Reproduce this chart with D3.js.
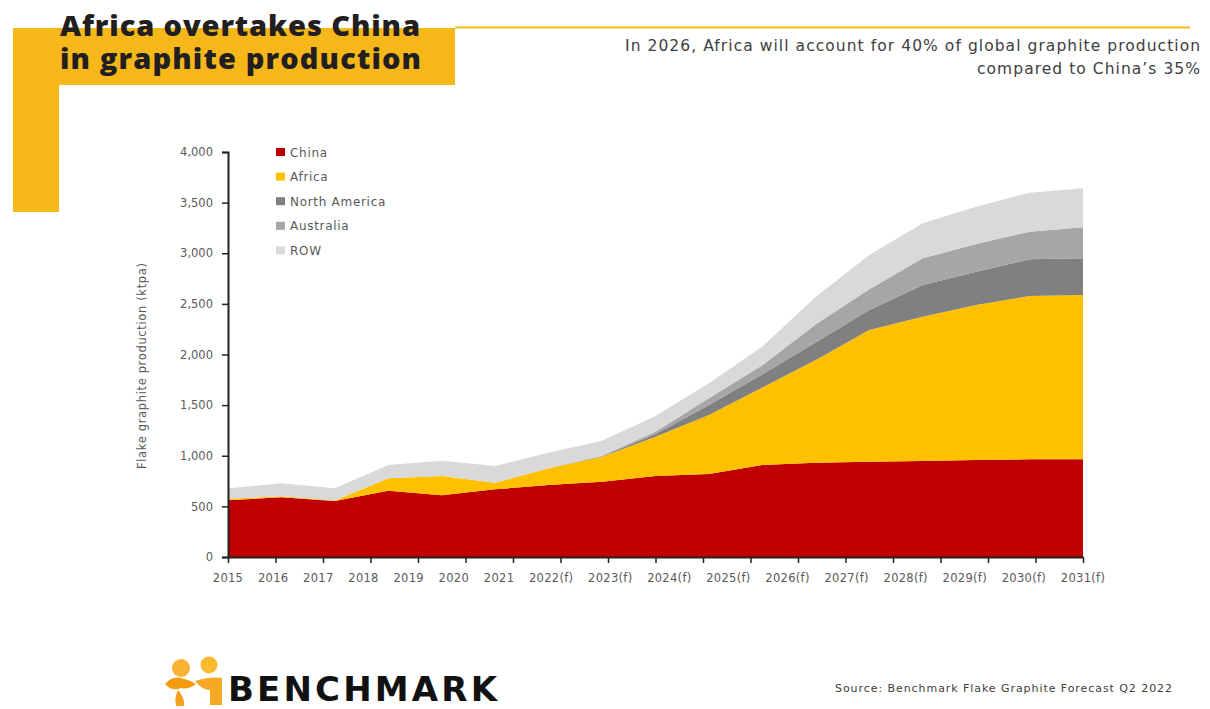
<!DOCTYPE html>
<html>
<head>
<meta charset="utf-8">
<script src="https://cdn.jsdelivr.net/npm/d3@7"></script>
<style>
  html, body { margin: 0; padding: 0; background: #ffffff; }
  svg { display: block; }
  text { font-family: "DejaVu Sans", "Open Sans", sans-serif; }
</style>
</head>
<body>
<svg id="chart" width="1210" height="709"></svg>
<script>
// ---------------- DATA ----------------
const years = ["2015","2016","2017","2018","2019","2020","2021","2022(f)","2023(f)","2024(f)","2025(f)","2026(f)","2027(f)","2028(f)","2029(f)","2030(f)","2031(f)"];
const seriesNames = ["China","Africa","North America","Australia","ROW"];
const china        = [560, 590, 553, 655, 609, 668, 711, 744, 800, 820, 909, 931, 941, 948, 958, 965, 965];
const africa       = [15, 10, 5, 122, 191, 66, 165, 245, 388, 582, 766, 1015, 1301, 1425, 1531, 1613, 1623];
const northAmerica = [0, 0, 0, 0, 0, 0, 0, 5, 27, 99, 130, 174, 198, 313, 329, 362, 362];
const australia    = [0, 0, 0, 0, 0, 0, 0, 5, 23, 66, 90, 180, 205, 264, 273, 273, 306];
const row          = [103, 128, 120, 132, 151, 165, 154, 150, 155, 149, 183, 270, 338, 346, 369, 385, 386];
const yTicks = [0, 500, 1000, 1500, 2000, 2500, 3000, 3500, 4000];
const xTickCount = 19;

const colors = {"China":"#C00000","Africa":"#FFC000","North America":"#808080","Australia":"#A6A6A6","ROW":"#D9D9D9"};

const table = years.map((y, i) => ({
  year: y,
  "China": china[i], "Africa": africa[i], "North America": northAmerica[i],
  "Australia": australia[i], "ROW": row[i]
}));

// ---------------- LAYOUT ----------------
const svg = d3.select("#chart");
const plot = {left: 228, right: 1083, top: 152, bottom: 557};
const yellow = "#F5B71A";

// Title block
svg.append("rect").attr("x", 13).attr("y", 28).attr("width", 442).attr("height", 57).attr("fill", yellow);
svg.append("rect").attr("x", 13).attr("y", 28).attr("width", 46).attr("height", 184).attr("fill", yellow);
svg.append("line").attr("x1", 455).attr("x2", 1190).attr("y1", 27.5).attr("y2", 27.5)
  .attr("stroke", yellow).attr("stroke-width", 2);

svg.append("text").attr("x", 60).attr("y", 36).attr("fill", "#231F20")
  .style("font-family", "'Open Sans', sans-serif")
  .attr("font-size", 29).attr("font-weight", 800)
  .attr("textLength", 360).attr("lengthAdjust", "spacing")
  .text("Africa overtakes China");
svg.append("text").attr("x", 60).attr("y", 69).attr("fill", "#231F20")
  .style("font-family", "'Open Sans', sans-serif")
  .attr("font-size", 29).attr("font-weight", 800)
  .attr("textLength", 361).attr("lengthAdjust", "spacing")
  .text("in graphite production");

svg.append("text").attr("x", 1200).attr("y", 51).attr("text-anchor", "end")
  .attr("fill", "#404040").attr("font-size", 15.5)
  .attr("textLength", 575).attr("lengthAdjust", "spacing")
  .text("In 2026, Africa will account for 40% of global graphite production");
svg.append("text").attr("x", 1200).attr("y", 74).attr("text-anchor", "end")
  .attr("fill", "#404040").attr("font-size", 15.5)
  .attr("textLength", 223).attr("lengthAdjust", "spacing")
  .text("compared to China\u2019s 35%");

// ---------------- SCALES ----------------
const x = d3.scalePoint().domain(years).range([plot.left, plot.right]);
const y = d3.scaleLinear().domain([0, 4000]).range([plot.bottom, plot.top]);

const stack = d3.stack().keys(seriesNames);
const layers = stack(table);

const area = d3.area()
  .x(d => x(d.data.year))
  .y0(d => y(d[0]))
  .y1(d => y(d[1]))
  .curve(d3.curveLinear);

svg.append("g").selectAll("path").data(layers).join("path")
  .attr("d", area)
  .attr("fill", d => colors[d.key]);

// ---------------- AXES ----------------
const yAxis = svg.append("g").attr("transform", `translate(${plot.left},0)`)
  .call(d3.axisLeft(y).tickValues(yTicks).tickFormat(d3.format(",")).tickSize(6).tickPadding(9));
yAxis.select(".domain").attr("stroke", "#222").attr("stroke-width", 2);
yAxis.selectAll(".tick line").attr("stroke", "#222").attr("stroke-width", 1.5);
yAxis.selectAll(".tick text").attr("fill", "#595959").attr("font-size", 11.5)
  .style("font-family", "'DejaVu Sans', sans-serif");

// x axis: evenly spaced tick marks
const xt = d3.scaleLinear().domain([0, xTickCount - 1]).range([plot.left, plot.right]);
const xAxis = svg.append("g").attr("transform", `translate(0,${plot.bottom})`)
  .call(d3.axisBottom(xt).tickValues(d3.range(xTickCount)).tickFormat("").tickSize(6).tickSizeOuter(0));
xAxis.select(".domain").attr("stroke", "#222").attr("stroke-width", 2);
xAxis.selectAll(".tick line").attr("stroke", "#222").attr("stroke-width", 1.5);

// x labels, distributed with equal gaps between first and last category
const xl = svg.append("g");
const labels = xl.selectAll("text").data(years).join("text")
  .attr("y", plot.bottom + 25)
  .attr("fill", "#595959").attr("font-size", 11.5).attr("letter-spacing", 0.3)
  .text(d => d);
const widths = [];
labels.each(function() { widths.push(this.getComputedTextLength()); });
const startX = x(years[0]) - widths[0] / 2;
const endX = x(years[years.length - 1]) + widths[widths.length - 1] / 2;
const gap = (endX - startX - d3.sum(widths)) / (years.length - 1);
let cursor = startX;
labels.each(function(d, i) {
  d3.select(this).attr("x", cursor);
  cursor += widths[i] + gap;
});

// y axis title
svg.append("text")
  .attr("transform", `translate(146,366) rotate(-90)`)
  .attr("text-anchor", "middle").attr("fill", "#595959").attr("font-size", 11.5)
  .attr("textLength", 206).attr("lengthAdjust", "spacing")
  .text("Flake graphite production (ktpa)");

// ---------------- LEGEND ----------------
const legend = svg.append("g").selectAll("g").data(seriesNames).join("g")
  .attr("transform", (d, i) => `translate(276,${152 + i * 24.6})`);
legend.append("rect").attr("x", 0).attr("y", -4).attr("width", 9).attr("height", 8)
  .attr("fill", d => colors[d]);
legend.append("text").attr("x", 14).attr("y", 4.5).attr("fill", "#595959").attr("font-size", 12)
  .attr("letter-spacing", 0.7)
  .text(d => d);

// ---------------- FOOTER ----------------
const logo = svg.append("g");
logo.append("circle").attr("cx", 181).attr("cy", 668).attr("r", 9).attr("fill", "#F9B233");
logo.append("path").attr("d", "M165,684 Q172,676 181,678 Q190,680 196,684 Q188,690 181,688 Q172,692 165,684 Z").attr("fill", "#F39C12");
logo.append("path").attr("d", "M178,690 Q185,698 184,706 L176,706 Q174,698 178,690 Z").attr("fill", "#F6A21E");
logo.append("circle").attr("cx", 209).attr("cy", 665).attr("r", 8.5).attr("fill", "#FBBA30");
logo.append("path").attr("d", "M195,681 Q210,676 222,678 L222,705 L210,705 L210,690 Q202,690 195,681 Z").attr("fill", "#F7A823");

svg.append("text").attr("x", 228).attr("y", 701).attr("fill", "#111")
  .attr("font-size", 34).attr("font-weight", 700)
  .attr("textLength", 269).attr("lengthAdjust", "spacing")
  .text("BENCHMARK");

svg.append("text").attr("x", 1172).attr("y", 692).attr("text-anchor", "end")
  .attr("fill", "#404040").attr("font-size", 11)
  .attr("textLength", 337).attr("lengthAdjust", "spacing")
  .text("Source: Benchmark Flake Graphite Forecast Q2 2022");
</script>
</body>
</html>
